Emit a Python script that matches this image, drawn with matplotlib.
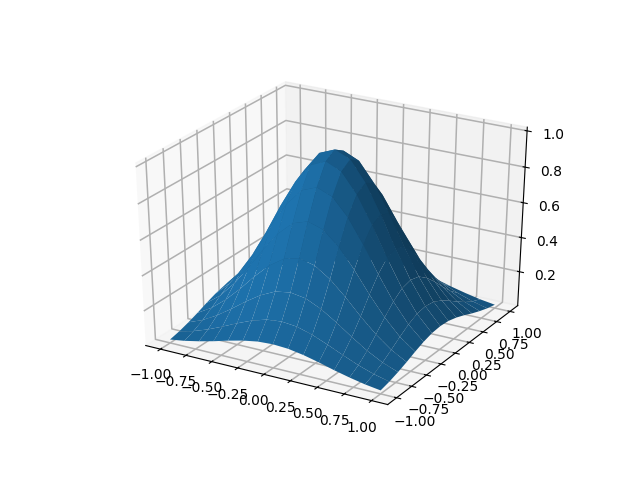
import numpy as np
import matplotlib
matplotlib.use("Agg")
import matplotlib.pyplot as plt

x_values = [-1.0, -0.857, -0.714, -0.571, -0.429, -0.286, -0.143, 0.0, 0.143, 0.286, 0.429, 0.571, 0.714, 0.857, 1.0]
y_values = [-1.0, -0.857, -0.714, -0.571, -0.429, -0.286, -0.143, 0.0, 0.143, 0.286, 0.429, 0.571, 0.714, 0.857, 1.0]
z_values = [
    [.018, .031, .049, .070, .094, .115, .130, .135, .130, .115, .094, .070, .049, .031, .018],
    [.031, .053, .083, .120, .159, .195, .221, .230, .221, .195, .159, .120, .083, .053, .031],
    [.049, .083, .130, .188, .250, .306, .347, .361, .347, .306, .250, .188, .130, .083, .049],
    [.070, .120, .188, .270, .360, .441, .499, .520, .499, .441, .360, .270, .188, .120, .070],
    [.094, .159, .250, .360, .480, .588, .665, .693, .665, .588, .480, .360, .250, .159, .094],
    [.115, .195, .306, .441, .588, .721, .815, .849, .815, .721, .588, .441, .306, .195, .115],
    [.130, .221, .347, .499, .665, .815, .922, .960, .922, .815, .665, .499, .347, .221, .130],
    [.135, .230, .361, .520, .693, .849, .960, .995, .960, .849, .693, .520, .361, .230, .135],
    [.130, .221, .347, .499, .665, .815, .922, .960, .922, .815, .665, .499, .347, .221, .130],
    [.115, .195, .306, .441, .588, .721, .815, .849, .815, .721, .588, .441, .306, .195, .115],
    [.094, .159, .250, .360, .480, .588, .665, .693, .665, .588, .480, .360, .250, .159, .094],
    [.070, .120, .188, .270, .360, .441, .499, .520, .499, .441, .360, .270, .188, .120, .070],
    [.049, .083, .130, .188, .250, .306, .347, .361, .347, .306, .250, .188, .130, .083, .049],
    [.031, .053, .083, .120, .159, .195, .221, .230, .221, .195, .159, .120, .083, .053, .031],
    [.018, .031, .049, .070, .094, .115, .130, .135, .130, .115, .094, .070, .049, .031, .018],
]
xy_ticks = [-1.0, -0.75, -0.5, -0.25, 0.0, 0.25, 0.5, 0.75, 1.0]
z_ticks = [0.2, 0.4, 0.6, 0.8, 1.0]

fig = plt.figure(figsize=(6.4, 4.8), dpi=100)
ax = fig.add_subplot(projection="3d")
ax.apply_aspect = lambda position=None: None
ax.set_box_aspect((1, 1, 1), zoom=0.9468)
X, Y = np.meshgrid(x_values, y_values)
ax.plot_surface(X, Y, np.array(z_values))
ax.set_xlim(-1.146, 1.146)
ax.set_ylim(-1.146, 1.146)
ax.set_zlim(-0.002, 1.02)
ax.set_xticks(xy_ticks)
ax.set_yticks(xy_ticks)
ax.set_zticks(z_ticks)
for axis in (ax.xaxis, ax.yaxis, ax.zaxis):
    axis._axinfo["grid"]["linewidth"] = 1.1
fig.savefig("out.png", dpi=100)
